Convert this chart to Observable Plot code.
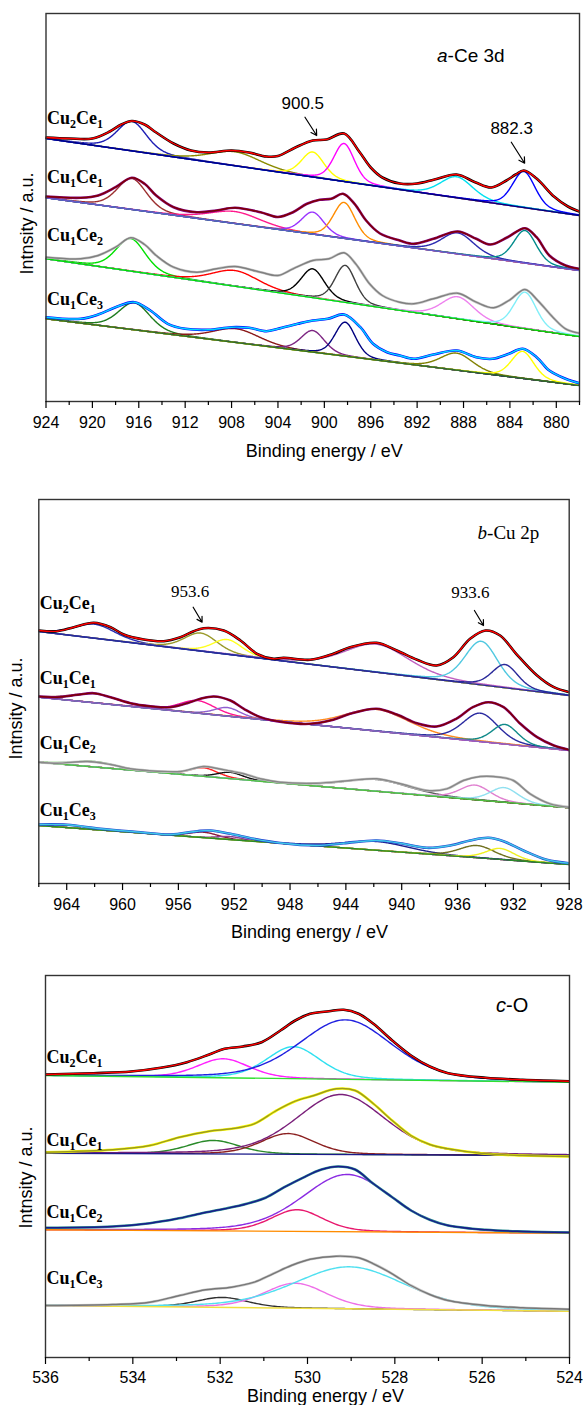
<!DOCTYPE html>
<html><head><meta charset="utf-8">
<script src="https://cdn.jsdelivr.net/npm/d3@7"></script>
<script src="https://cdn.jsdelivr.net/npm/@observablehq/plot@0.6"></script>
<style>
body{margin:0;background:#fff;}
#wrap{position:relative;width:583px;height:1405px;overflow:hidden;}
.panel{position:absolute;left:0;}
</style></head><body><div id="wrap"></div>
<script>
// ---------- shared ----------
const sampleNames = ["Cu2Ce1", "Cu1Ce1", "Cu1Ce2", "Cu1Ce3"];
const yTitle = "Intnsity / a.u.";
const xTitle = "Binding energy / eV";

// ---------- panel a : Ce 3d ----------
const ceTicks = [924, 920, 916, 912, 908, 904, 900, 896, 892, 888, 884, 880];
const ceMinor = [922, 918, 914, 910, 906, 902, 898, 894, 890, 886, 882, 878];
const ceBg = [[263, 186], [203.7, 131], [142.7, 65], [82.7, 16]];
const ceLabelI = [277, 218.3, 160, 95.7];
const ceEnvCu2Ce1 = [[924,264],[922,263],[920,263],[918.5,270],[917.5,277],[916.6,280.5],[915.5,277],[914.5,269],[913,258],[911.5,251],[910,249],[908,251],[906.5,249],[905,245],[904,245.5],[902.5,254],[901,261],[899.8,262],[898.3,268],[897,250],[896,234],[895,224],[893.5,218],[892,218],[890.5,222],[888.6,227],[887,219.3],[885.6,214],[884.3,221],[883.5,227],[882.8,231],[881.7,223],[880.2,205],[879,195],[878,190]];
const ceEnvCu1Ce1 = [[924,205],[921,203.7],[919.5,206],[918,214.3],[916.6,223.7],[915.5,217.7],[914.5,206],[913,194.3],[911,189.3],[909.3,191],[907.7,193.7],[905.5,189.3],[904,184.5],[902.7,189.3],[901.5,197.7],[900.4,201.7],[899.4,202.7],[898.4,207.7],[897.4,197.7],[896.4,181],[895.2,168],[893.5,161],[892.3,157.7],[890.6,162.7],[888.5,170],[886.9,162.7],[885.7,157],[884.2,164.3],[882.7,173.3],[881.7,164.3],[880.6,146],[879.2,136],[878,132.7]];
const ceEnvCu1Ce2 = [[924,144.3],[921,142.7],[919.5,146],[918,154.3],[916.7,163.7],[915.5,157],[914.5,146],[913,134.3],[911,129.3],[909.3,132.7],[907.7,135],[905.5,129.3],[904,126],[902.7,132.7],[901,141],[899.6,142.7],[898.3,148.7],[897.3,137.7],[896.1,117.7],[895,106],[893.5,99.3],[892.3,97.7],[890.6,102.7],[888.5,108.3],[886.9,99.3],[885.4,93.7],[884,101.7],[882.7,112],[881.6,101],[880.3,84.3],[879.2,72.7],[878,68.3]];
const ceEnvCu1Ce3 = [[924,84.3],[921,82.7],[919.5,87],[918,94.3],[916.4,99.3],[915,91],[913.5,77.7],[912,72.7],[910,71.7],[908,74.3],[906.5,73.7],[905,70.3],[904,72.7],[902.3,77.7],[901,81],[899.7,82.7],[898.3,87],[896.9,74.3],[895.8,57.7],[894.6,49.3],[893.5,46],[892.3,42.7],[890.6,47],[888.6,51],[886.9,44.3],[885.5,42.7],[884.1,47.7],[882.9,52.7],[881.7,44.3],[880.6,31],[879.2,22.7],[878,18.3]];
// peaks: [centre eV, height above background, FWHM eV]
const cePeaksCu2Ce1 = [[916.6,29.5,3.0],[907.7,14,5.2],[901.0,25,2.3],[898.3,38,2.1],[888.6,21,3.3],[882.8,36,2.3]];
const cePeaksCu1Ce1 = [[916.6,31,3.0],[907.7,12,5.2],[901.0,22,2.3],[898.3,36,2.2],[888.5,21,3.3],[882.7,32.6,2.3]];
const cePeaksCu1Ce2 = [[916.7,32.6,3.0],[907.7,15.8,4.8],[901.0,28.8,2.4],[898.2,37,2.1],[888.5,22,3.3],[882.7,36.4,2.3]];
const cePeaksCu1Ce3 = [[916.4,27,3.2],[907.6,13.8,4.8],[901.0,21.6,2.4],[898.2,34,2.1],[888.6,17,3.3],[882.9,27,2.3]];
const ceNotes = [
  {label: "900.5", E: 901.86, I: 297.7, e1: 901.67, i1: 284.3, e2: 900.66, i2: 266},
  {label: "882.3", E: 883.85, I: 272.7, e1: 883.88, i1: 259.3, e2: 882.73, i2: 238.3}
];

// ---------- panel b : Cu 2p ----------
const cuTicks = [964, 960, 956, 952, 948, 944, 940, 936, 932, 928];
const cuMinor = [966, 962, 958, 954, 950, 946, 942, 938, 934, 930];
const cuBg = [[252, 188], [186.3, 133], [121.3, 75.7], [58, 19]];
const cuLabelI = [273.7, 198.7, 133.7, 67];
const cuEnvCu2Ce1 = [[966,253],[964.68,252.3],[963.49,256.3],[962.06,260.7],[960.86,256.3],[959.91,249],[958.48,244],[957.05,242.3],[955.85,246.3],[954.9,252.3],[954.18,255.3],[952.75,253],[951.55,243],[950.36,229.7],[949.17,224.7],[948.47,225.7],[946.56,223.7],[944.9,229.7],[943.7,236.3],[941.8,240.7],[940.35,233],[938.9,223.7],[937.5,218],[936.3,226.3],[935.1,244.7],[934.0,253],[932.95,248],[931.8,229.7],[930.3,208],[929.1,196.3],[928,191.3]];
const cuEnvCu1Ce1 = [[966,187],[964.68,186.3],[963.2,188.7],[962.06,190.3],[960.86,186.3],[959.43,180.3],[958.0,177.3],[956.57,176.3],[955.37,180.3],[954.42,184.7],[953.46,187],[952.27,183],[951.31,174.7],[950.12,166.3],[948.47,161.3],[946.56,159.7],[944.9,163.7],[943.7,169.7],[941.8,174.7],[940.35,169],[938.9,160.3],[937.5,157],[936.1,164.7],[934.9,176.3],[933.8,181.3],[932.7,176.3],[931.5,159.7],[930.3,146.3],[929.1,138],[928,133.7]];
const cuEnvCu1Ce2 = [[966,121.3],[964.68,120.3],[962.5,122],[960.86,119],[959.43,114.7],[957.5,112.3],[955.85,112],[954.2,117],[953.2,115],[952.3,112.5],[951.31,109.7],[950.12,104.7],[948.69,101.3],[946.09,100.3],[943.69,103],[941.79,104.7],[939.88,99],[938.2,93],[936.77,94.7],[935.58,103],[934.38,107],[932.95,106.3],[932.0,103],[930.8,89.7],[929.37,79.7],[928,76.3]];
const cuEnvCu1Ce3 = [[966,59],[963.97,58.7],[961.58,54.7],[958.71,51.3],[956.57,49],[954.65,52.3],[953.7,53],[952.27,49.7],[950.6,44.7],[948.7,40.5],[946.09,38],[944.17,40.3],[941.79,43],[940.11,40.3],[938.2,35.7],[936.53,38],[935.1,43],[933.79,45.7],[932.71,42.3],[931.28,33],[929.61,23.7],[928,20.3]];
const cuPeaksCu2Ce1 = [[962.0,14,3.5],[954.4,18,2.8],[952.5,14.7,2.5],[941.8,28,5.5],[934.3,43.6,2.8],[932.6,23.2,2.2]];
const cuPeaksCu1Ce1 = [[962.0,9,4],[954.65,12.6,3],[952.5,8.6,2.2],[941.8,21.7,5.5],[934.36,28.4,3],[932.6,19.6,2.2]];
const cuPeaksCu1Ce2 = [[962.0,5.5,3.5],[954.2,8.6,2.4],[952.3,6.3,2.2],[941.8,11.7,5.5],[934.74,14.6,2.6],[932.66,14.6,2.4]];
const cuPeaksCu1Ce3 = [[954.2,5.4,2.5],[952.3,3,2.2],[941.8,8.8,5.5],[934.6,12.2,3],[932.95,11,2.4]];
const cuNotes = [
  {label: "953.6", E: 955.15, I: 292.3, e1: 954.94, i1: 276.3, e2: 954.3, i2: 261.3},
  {label: "933.6", E: 935.08, I: 291.3, e1: 934.79, i1: 273, e2: 934.14, i2: 258}
];

// ---------- panel c : O 1s ----------
const oTicks = [536, 534, 532, 530, 528, 526, 524];
const oMinor = [535, 533, 531, 529, 527, 525];
const oBg = [[282, 275.3], [204.3, 202], [127.7, 124.3], [52, 46.3]];
const oLabelI = [294.3, 211, 139.3, 72.7];
const oEnvCu2Ce1 = [[536,283],[534.9,284.3],[534.04,286],[533.36,289.7],[532.76,295.3],[532.25,303],[531.9,308.7],[531.48,311],[531.05,315.3],[530.62,327],[530.28,337],[529.94,343.7],[529.51,346.3],[529.17,347.7],[528.83,343.7],[528.49,333.7],[528.06,317],[527.63,302],[527.2,291],[526.78,284.3],[525.92,279.7],[525.07,277.7],[524,276.3]];
const oEnvCu1Ce1 = [[536,205.3],[534.46,207.7],[533.61,212],[532.93,220.3],[532.25,226.3],[531.74,228.7],[531.22,233.7],[530.71,247],[530.28,256.3],[529.85,262],[529.34,268.7],[528.91,267],[528.49,253.7],[528.06,237],[527.63,222],[527.2,213],[526.78,208.7],[525.92,203.7],[525.07,202],[524,201]];
const oEnvCu1Ce2 = [[536,129.7],[534.46,131],[533.61,134.3],[533.0,138.7],[532.42,144.3],[531.9,148.7],[531.39,153.7],[530.96,159.7],[530.53,170.3],[530.11,179.7],[529.68,188],[529.3,191],[528.91,188],[528.49,173.7],[528.06,160.3],[527.63,147],[527.2,137.7],[526.78,132],[525.92,127.7],[525.07,126],[524,125]];
const oEnvCu1Ce3 = [[536,52],[534.46,53],[533.61,55.3],[532.93,62],[532.33,67.7],[531.74,70.3],[531.22,75.3],[530.79,83.7],[530.37,92],[529.94,98.3],[529.34,101.3],[528.83,99.7],[528.49,93.7],[528.06,83.7],[527.63,72],[527.2,63],[526.78,57],[525.92,52],[525.07,49.7],[524,48.3]];
const oPeaksCu2Ce1 = [[531.93,19,1.4],[530.32,32,1.45],[529.13,59.5,2.5]];
const oPeaksCu1Ce1 = [[532.16,13.5,1.4],[530.45,20.7,1.45],[529.24,60,2.4]];
const oPeaksCu1Ce2 = [[530.24,21.7,1.4],[529.09,57.3,2.45]];
const oPeaksCu1Ce3 = [[531.95,10,1.4],[530.28,25,1.7],[529.04,42,3.0]];

// ---------- styles ----------
const SANS = "Liberation Sans, Arial, Helvetica, sans-serif";
const SERIF = "Liberation Serif, Times New Roman, serif";
const ceStyle = {
  comp: [["#1c1cb4","#8b8b00","#ffff00","#ff00ff","#00e0f0","#0000ff"],
         ["#9c3030","#ff1a8c","#9933ff","#ff8c00","#2a2ab0","#008b8b"],
         ["#00e000","#ff0000","#000000","#404040","#ee82ee","#80eef8"],
         ["#1e7b1e","#8b1a1a","#7d2682","#00007f","#808000","#ffff00"]],
  bg: ["#000080", "#6a5acd", "#00dd00", "#2e6b2e"],
  raw: ["#000000", "#800080", "#c8c8c8", "#0000ff"],
  fit: ["#ff0000", "#800000", "#808080", "#00d8ff"]
};
const cuStyle = {
  comp: [["#2a2ab4","#9a9a2a","#ffff20","#c060c0","#50c8e0","#2a2a9a"],
         ["#a05060","#ff1493","#9060d0","#ff8c20","#2a2aa0","#108a8a"],
         ["#50c040","#ff2020","#101010","#606060","#e080d0","#90e0f0"],
         ["#8b1a3a","#904090","#20208a","#707020","#f0f020"]],
  bg: ["#2a2a9a", "#9060c0", "#50c040", "#2a8a2a"],
  raw: ["#000000", "#800080", "#c8c8c8", "#2040d0"],
  fit: ["#ff0000", "#800000", "#888888", "#40c8e8"]
};
const oStyle = {
  comp: [["#ff20ff","#30e0f0","#2020e0"],
         ["#2a8a2a","#8b2020","#7a1f7a"],
         ["#e8196e","#8a2be2"],
         ["#303030","#ee70e8","#50e0f0"]],
  bg: ["#30e030", "#1a1a8a", "#ff8c00", "#f0e040"],
  raw: ["#000000", "#ffff00", "#2a9090", "#c8c8c8"],
  fit: ["#ff0000", "#9a9a20", "#1a1a8a", "#777777"]
};

const pv = (E, c, w) => { const t = (E - c) / w; return 0.3 / (1 + 4 * t * t) + 0.7 * Math.exp(-4 * Math.LN2 * t * t); };
const toPts = arr => arr.map(([E, I]) => ({E, I}));

function panel(cfg) {
  const [e0, e1] = cfg.domain;
  const lo = Math.min(e0, e1), hi = Math.max(e0, e1);
  const grid = d3.range(lo, hi + 1e-9, 0.04);
  const marks = [];
  cfg.envs.forEach((env, i) => {
    const [b0, b1] = cfg.bg[i];
    const bg = E => b0 + (b1 - b0) * (E - e0) / (e1 - e0);
    cfg.peaks[i].forEach((p, j) => {
      const pts = grid.map(E => ({E, I: bg(E) + p[1] * pv(E, p[0], p[2])}));
      marks.push(Plot.line(pts, {x: "E", y: "I", stroke: cfg.style.comp[i][j], strokeWidth: 1.4, clip: true}));
    });
    marks.push(Plot.line([{E: e0, I: b0}, {E: e1, I: b1}], {x: "E", y: "I", stroke: cfg.style.bg[i], strokeWidth: 1.4, clip: true}));
    const pts = toPts(env);
    marks.push(Plot.line(pts, {x: "E", y: "I", stroke: cfg.style.raw[i], strokeWidth: 2.6, curve: "catmull-rom", clip: true}));
    marks.push(Plot.line(pts, {x: "E", y: "I", stroke: cfg.style.fit[i], strokeWidth: 1.4, curve: "catmull-rom", clip: true}));
  });
  if (cfg.notes) {
    marks.push(Plot.arrow(cfg.notes, {x1: "e1", y1: "i1", x2: "e2", y2: "i2", stroke: "#000", strokeWidth: 1.2, headLength: 8}));
    marks.push(Plot.text(cfg.notes, {x: "E", y: "I", text: "label", fontSize: 17, fontFamily: cfg.noteFont, fill: "#000"}));
  }
  marks.push(Plot.frame({stroke: "#333", strokeWidth: 1.4}));
  marks.push(Plot.axisX(cfg.minor, {tickSize: 4, tickFormat: () => "", strokeWidth: 1.2}));
  marks.push(Plot.axisX(cfg.ticks, {tickSize: 7, tickPadding: cfg.tickPad, fontSize: 16, strokeWidth: 1.2, tickFormat: d => String(d)}));
  marks.push(Plot.text([xTitle], {frameAnchor: "bottom", textAnchor: "middle", lineAnchor: "middle", dx: cfg.xTitleDx, dy: cfg.xTitleDy, fontSize: 18, fill: "#000"}));
  marks.push(Plot.text([yTitle], {frameAnchor: "left", textAnchor: "middle", lineAnchor: "middle", rotate: -90, dx: cfg.yTitleDx, dy: cfg.yTitleDy, fontSize: 18, fill: "#000"}));

  const chart = Plot.plot({
    width: 583, height: cfg.height,
    marginTop: cfg.mt, marginBottom: cfg.mb, marginLeft: cfg.ml, marginRight: cfg.mr,
    x: {domain: cfg.domain, label: null},
    y: {domain: [0, cfg.yMax], axis: null},
    style: {fontFamily: SANS, fontSize: "16px", color: "#000", background: "white", overflow: "visible"},
    marks
  });
  const svg = d3.select(chart.tagName.toLowerCase() === "svg" ? chart : chart.querySelector("svg"));
  const ys = chart.scale("y");
  // sample labels with subscripts
  sampleNames.forEach((name, i) => {
    const parts = name.match(/([A-Za-z]+)(\d)([A-Za-z]+)(\d)/).slice(1);
    const t = svg.append("text")
      .attr("x", cfg.ml + 1.5).attr("y", ys.apply(cfg.labelI[i]))
      .attr("text-anchor", "start")
      .attr("font-family", SERIF).attr("font-weight", "bold").attr("font-size", 18).attr("fill", "#000");
    t.append("tspan").text(parts[0]);
    t.append("tspan").attr("font-size", 12).attr("dy", 4).text(parts[1]);
    t.append("tspan").attr("dy", -4).text(parts[2]);
    t.append("tspan").attr("font-size", 12).attr("dy", 4).text(parts[3]);
  });
  // panel tag
  const tag = svg.append("text").attr("x", cfg.tag.x).attr("y", cfg.tag.y)
    .attr("text-anchor", "start")
    .attr("font-family", cfg.tag.font).attr("font-size", cfg.tag.size).attr("fill", "#000");
  tag.append("tspan").attr("font-style", "italic").text(cfg.tag.italic);
  tag.append("tspan").text(cfg.tag.rest);

  const div = document.createElement("div");
  div.className = "panel";
  div.style.top = cfg.top + "px";
  div.appendChild(chart);
  document.getElementById("wrap").appendChild(div);
}

panel({
  top: 0, height: 470, mt: 13, mb: 69, ml: 45.5, mr: 4, yMax: 388, tickPad: 8,
  domain: [924, 878], ticks: ceTicks, minor: ceMinor,
  envs: [ceEnvCu2Ce1, ceEnvCu1Ce1, ceEnvCu1Ce2, ceEnvCu1Ce3],
  peaks: [cePeaksCu2Ce1, cePeaksCu1Ce1, cePeaksCu1Ce2, cePeaksCu1Ce3],
  bg: ceBg, labelI: ceLabelI, style: ceStyle, notes: ceNotes, noteFont: SANS,
  xTitleDx: 11.5, xTitleDy: 50, yTitleDx: -18.5, yTitleDy: 16,
  tag: {x: 437, y: 62, font: SANS, size: 19, italic: "a", rest: "-Ce 3d"}
});
panel({
  top: 470, height: 480, mt: 29, mb: 67, ml: 38.3, mr: 14.3, yMax: 384, tickPad: 8,
  domain: [966, 928], ticks: cuTicks, minor: cuMinor,
  envs: [cuEnvCu2Ce1, cuEnvCu1Ce1, cuEnvCu1Ce2, cuEnvCu1Ce3],
  peaks: [cuPeaksCu2Ce1, cuPeaksCu1Ce1, cuPeaksCu1Ce2, cuPeaksCu1Ce3],
  bg: cuBg, labelI: cuLabelI, style: cuStyle, notes: cuNotes, noteFont: SERIF,
  xTitleDx: 5.5, xTitleDy: 49, yTitleDx: -22.5, yTitleDy: 17,
  tag: {x: 477.6, y: 69, font: SERIF, size: 19, italic: "b", rest: "-Cu 2p"}
});
panel({
  top: 950, height: 455, mt: 25, mb: 48, ml: 45, mr: 14, yMax: 382, tickPad: 7,
  domain: [536, 524], ticks: oTicks, minor: oMinor,
  envs: [oEnvCu2Ce1, oEnvCu1Ce1, oEnvCu1Ce2, oEnvCu1Ce3],
  peaks: [oPeaksCu2Ce1, oPeaksCu1Ce1, oPeaksCu1Ce2, oPeaksCu1Ce3],
  bg: oBg, labelI: oLabelI, style: oStyle, notes: null,
  xTitleDx: 18, xTitleDy: 38.5, yTitleDx: -19, yTitleDy: 11,
  tag: {x: 496, y: 62, font: SANS, size: 20, italic: "c", rest: "-O"}
});
</script></body></html>
